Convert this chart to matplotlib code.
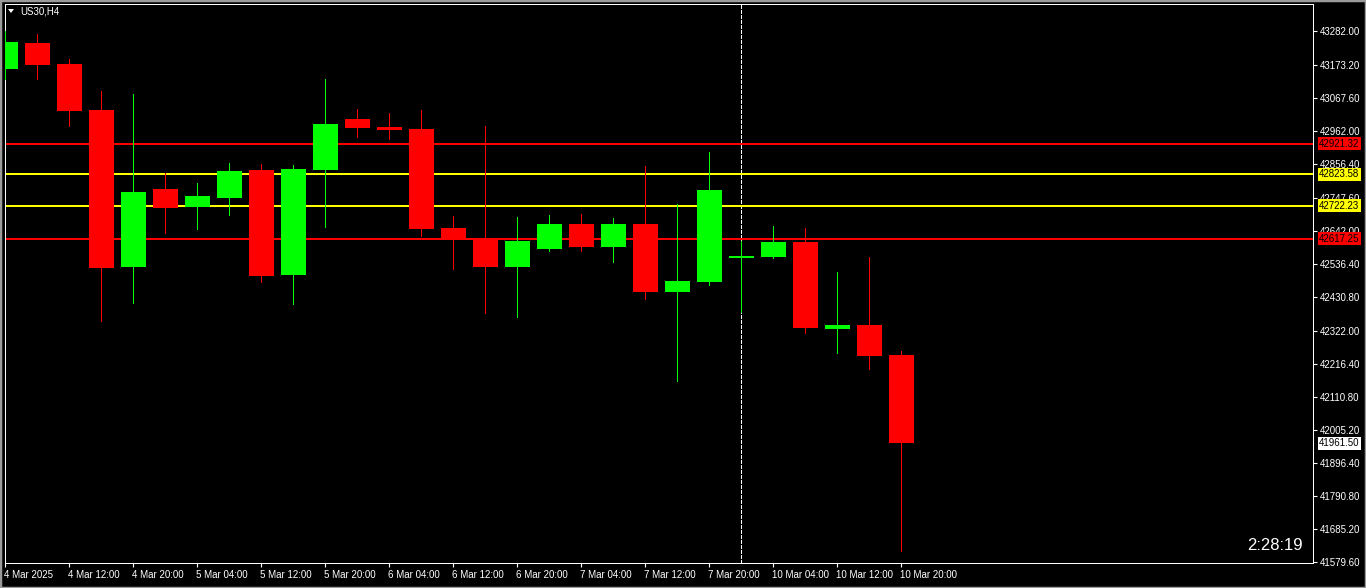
import matplotlib
matplotlib.use("Agg")
import matplotlib.pyplot as plt
import matplotlib.transforms as mtransforms
from matplotlib.patches import Rectangle
import numpy as np

plt.rcParams['font.family'] = ['Liberation Sans', 'DejaVu Sans']

# ---------------- data (US30, H4) ----------------
opens = [43161.7, 43244.1, 43176.8, 43029.3, 42526.2, 42776.2, 42719.4, 42747.3,
         42837.0, 42500.5, 42837.0, 43000.5, 42974.9, 42968.4, 42651.2, 42619.1,
         42526.2, 42583.9, 42664.0, 42590.3, 42664.0, 42446.0, 42478.1, 42555.0,
         42558.2, 42606.3, 42327.5, 42340.3, 42244.1]
highs = [43283.5, 43272.9, 43192.8, 43090.2, 43080.6, 42827.4, 42795.4, 42859.5,
         42856.3, 42853.1, 43128.7, 43032.6, 43019.7, 43029.3, 42689.6, 42978.1,
         42686.4, 42692.8, 42696.0, 42683.2, 42849.9, 42728.1, 42894.7, 42609.5,
         42657.6, 42651.2, 42510.1, 42558.2, 42256.9]
lows = [43129.6, 43129.7, 42979.0, 42353.1, 42410.8, 42636.1, 42648.0, 42692.8,
        42478.1, 42407.6, 42654.4, 42943.8, 42936.4, 42626.5, 42519.8, 42378.7,
        42365.9, 42577.4, 42577.4, 42542.2, 42423.6, 42160.8, 42468.5, 42381.9,
        42555.0, 42314.6, 42250.5, 42199.3, 41615.9]
closes = [43247.3, 43174.5, 43027.1, 42523.9, 42766.5, 42715.3, 42753.7, 42833.8,
          42497.3, 42840.3, 42984.5, 42972.6, 42966.2, 42648.0, 42613.7, 42526.2,
          42609.5, 42664.0, 42590.3, 42664.0, 42446.0, 42481.3, 42772.9, 42561.4,
          42606.3, 42330.7, 42340.3, 42240.9, 41961.5]

time_labels = ["4 Mar 2025", "4 Mar 12:00", "4 Mar 20:00", "5 Mar 04:00", "5 Mar 12:00",
               "5 Mar 20:00", "6 Mar 04:00", "6 Mar 12:00", "6 Mar 20:00", "7 Mar 04:00",
               "7 Mar 12:00", "7 Mar 20:00", "10 Mar 04:00", "10 Mar 12:00", "10 Mar 20:00"]
time_label_bars = [0, 2, 4, 6, 8, 10, 12, 14, 16, 18, 20, 22, 24, 26, 28]

price_ticks = [43282.00, 43173.20, 43067.60, 42962.00, 42856.40, 42747.60, 42642.00,
               42536.40, 42430.80, 42322.00, 42216.40, 42110.80, 42005.20, 41896.40,
               41790.80, 41685.20, 41579.60]

level_prices = [42921.32, 42823.58, 42722.23, 42617.25]
level_colors = ["#FF0000", "#FFFF00", "#FFFF00", "#FF0000"]

current_price = 41961.50
separator_bar = 23
symbol_title = "US30,H4"
timer_text = "2:28:19"

# ---------------- figure ----------------
W, H = 1366, 588
fig = plt.figure(figsize=(W / 100, H / 100), dpi=100, facecolor="black")
ax_left, ax_right, ax_top, ax_bottom = 4.5, 1313.0, 4.0, 563.0
ax = fig.add_axes([ax_left / W, (H - ax_bottom) / H,
                   (ax_right - ax_left) / W, (ax_bottom - ax_top) / H])
ax.set_facecolor("black")

bar_px = 32.0
ax.set_xlim((ax_left - 5) / bar_px, (ax_right - 5) / bar_px)
ax.set_ylim(41577.5, 43369.0)

GREEN = "#00FF00"
RED = "#FF0000"
body_w = 25.0 / bar_px
px_in_pt = 72.0 / 100

x = np.arange(len(opens))
for i in x:
    o, h, l, c = opens[i], highs[i], lows[i], closes[i]
    col = GREEN if c >= o else RED
    ax.vlines(i, l, h, color=col, linewidth=1.0 * px_in_pt, zorder=3, antialiased=False)
    bot = min(o, c)
    ht = max(abs(c - o), 4.0)
    if abs(c - o) < 4.0:
        bot = (o + c) / 2 - 2.0
    ax.add_patch(Rectangle((i - body_w / 2, bot), body_w, ht, facecolor=col,
                           edgecolor="none", zorder=4, antialiased=False))

# horizontal levels
for p, colr in zip(level_prices, level_colors):
    ax.axhline(p, color=colr, linewidth=2 * px_in_pt, zorder=2, antialiased=False)

# period separator
ax.axvline(separator_bar, color="white", linewidth=1.0 * px_in_pt,
           linestyle=(0, (4, 2)), zorder=1, antialiased=False)

# spines
for s in ["left", "right", "top", "bottom"]:
    ax.spines[s].set_color("white")
    ax.spines[s].set_linewidth(1 * px_in_pt)

# y axis on right
ax.yaxis.tick_right()
ax.set_yticks(price_ticks)
ax.set_yticklabels(["%.2f" % v for v in price_ticks])
ax.tick_params(axis="y", colors="white", length=3, width=0.8, pad=2, labelsize=7)

# x ticks
ax.set_xticks(time_label_bars)
ax.set_xticklabels(time_labels)
ax.tick_params(axis="x", colors="white", length=3, width=0.8, pad=2, labelsize=7)
offset = mtransforms.ScaledTranslation(-1 / 100, 0, fig.dpi_scale_trans)
for lab in ax.get_xticklabels():
    lab.set_horizontalalignment("left")
    lab.set_transform(lab.get_transform() + offset)

# level price labels on right axis
trans = mtransforms.blended_transform_factory(ax.transAxes, ax.transData)
trans_off = trans + mtransforms.ScaledTranslation(6 / 100, 0, fig.dpi_scale_trans)
for p, colr in zip(level_prices, level_colors):
    ax.text(1.0, p, "%.2f" % p, transform=trans_off, color="black", fontsize=7,
            va="center", ha="left", clip_on=False, zorder=10,
            bbox=dict(boxstyle="square,pad=0.15", facecolor=colr, edgecolor="none"))
ax.text(1.0, current_price, "%.2f" % current_price, transform=trans_off, color="black",
        fontsize=7, va="center", ha="left", clip_on=False, zorder=10,
        bbox=dict(boxstyle="square,pad=0.15", facecolor="white", edgecolor="none"))

# title
fig.text(20 / W, 1 - 11.5 / H, symbol_title, color="white", fontsize=7, va="center", ha="left")
fig.patches.append(plt.Polygon([[8 / W, 1 - 9 / H], [14 / W, 1 - 9 / H], [11 / W, 1 - 13 / H]],
                               closed=True, facecolor="white", edgecolor="none",
                               transform=fig.transFigure, figure=fig))

# timer
fig.text(1303 / W, 1 - 545 / H, timer_text, color="white", fontsize=12, va="center", ha="right")

# window border
fig.patches.append(Rectangle((0, 0), 1, 1, transform=fig.transFigure, fill=False,
                             edgecolor="#9a9a9a", linewidth=2.5, figure=fig))

fig.savefig("out.png", dpi=100, facecolor="black")
